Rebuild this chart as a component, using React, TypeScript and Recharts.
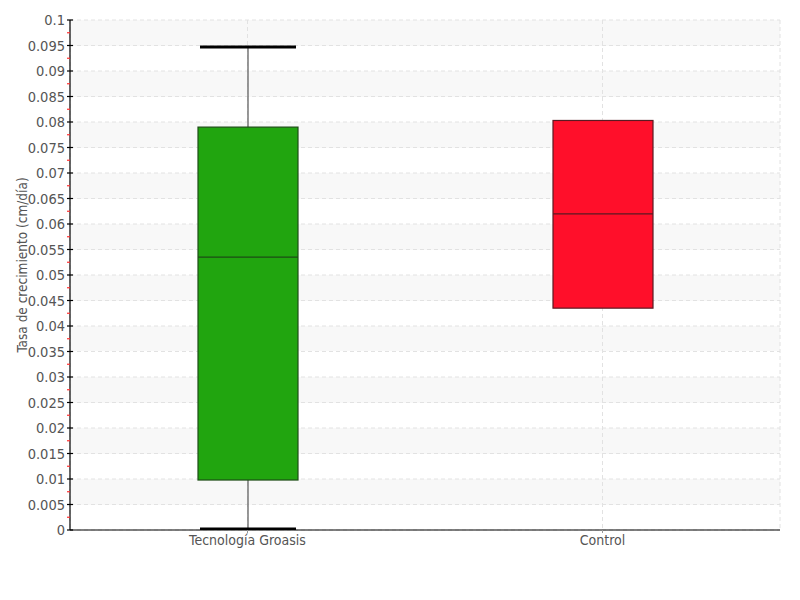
import React from "react";
import {
  ComposedChart,
  Bar,
  XAxis,
  YAxis,
  CartesianGrid,
  Label,
} from "recharts";

const categories = ["Tecnología Groasis", "Control"];
const mins = [0, 0.0435];
const q1s = [0.0098, 0.0435];
const medians = [0.0535, 0.062];
const q3s = [0.079, 0.0803];
const maxs = [0.0947, 0.0803];
const fills = ["#21a50f", "#ff0f2a"];
const strokes = ["#1d4d16", "#5a1a22"];

const majorTicks = [
  0, 0.005, 0.01, 0.015, 0.02, 0.025, 0.03, 0.035, 0.04, 0.045, 0.05, 0.055,
  0.06, 0.065, 0.07, 0.075, 0.08, 0.085, 0.09, 0.095, 0.1,
];
const minorTicks = majorTicks.slice(1).map((v, i) => (v + majorTicks[i]) / 2);
const allTicks = [...majorTicks, ...minorTicks].sort((a, b) => a - b);

const FONT = "'Liberation Sans Narrow', 'DejaVu Sans Condensed', sans-serif";

const data = categories.map((c, i) => ({
  name: c,
  range: [mins[i], maxs[i]],
  min: mins[i],
  q1: q1s[i],
  median: medians[i],
  q3: q3s[i],
  max: maxs[i],
  idx: i,
}));

const isMajor = (v: number) => majorTicks.some((m) => Math.abs(m - v) < 1e-9);
const fmt = (v: number) => parseFloat(v.toFixed(4)).toString();

const YTick = (props: any) => {
  const { x, y, payload } = props;
  const v = payload.value;
  if (isMajor(v)) {
    return (
      <g>
        <line x1={x - 3} x2={x + 3} y1={y} y2={y} stroke="#000" strokeWidth={1.2} />
        <text
          x={x - 5}
          y={y}
          textAnchor="end"
          dominantBaseline="central"
          fill="#555"
          fontSize={14.5}
          fontFamily={FONT}
        >
          {fmt(v)}
        </text>
      </g>
    );
  }
  return <line x1={x - 3} x2={x} y1={y} y2={y} stroke="#ff3030" strokeWidth={1.2} />;
};

const BoxShape = (props: any) => {
  const { x, y, width, height, payload } = props;
  const top = Math.min(y, y + height);
  const bottom = Math.max(y, y + height);
  const lo = payload.min;
  const hi = payload.max;
  const span = hi - lo;
  const py = (v: number) =>
    span === 0 ? top : bottom - ((bottom - top) * (v - lo)) / span;
  const cx = x + width / 2;
  const i = payload.idx;
  const yq1 = py(payload.q1);
  const yq3 = py(payload.q3);
  const ymed = py(payload.median);
  const ymin = py(payload.min);
  const ymax = py(payload.max);
  const capL = x + 2;
  const capR = x + width - 2;
  return (
    <g>
      {payload.max > payload.q3 && (
        <>
          <line x1={cx} x2={cx} y1={ymax} y2={yq3} stroke="#777" strokeWidth={1.5} />
          <line x1={capL} x2={capR} y1={ymax} y2={ymax} stroke="#000" strokeWidth={3} />
        </>
      )}
      {payload.min < payload.q1 && (
        <>
          <line x1={cx} x2={cx} y1={yq1} y2={ymin} stroke="#777" strokeWidth={1.5} />
          <line x1={capL} x2={capR} y1={ymin - 1} y2={ymin - 1} stroke="#000" strokeWidth={3} />
        </>
      )}
      <rect
        x={x}
        y={yq3}
        width={width}
        height={yq1 - yq3}
        fill={fills[i]}
        stroke={strokes[i]}
        strokeWidth={1.2}
      />
      <line x1={x} x2={x + width} y1={ymed} y2={ymed} stroke={strokes[i]} strokeWidth={1.2} />
    </g>
  );
};

const YLabel = (props: any) => {
  const { viewBox } = props;
  const cx = viewBox.x + 14;
  const cy = viewBox.y + viewBox.height / 2 - 10;
  return (
    <text
      x={cx}
      y={cy}
      transform={`rotate(-90 ${cx} ${cy})`}
      textAnchor="middle"
      dominantBaseline="central"
      fill="#555"
      fontSize={13.5}
      fontFamily={FONT}
    >
      Tasa de crecimiento (cm/día)
    </text>
  );
};

export default function App() {
  return (
    <ComposedChart
      width={800}
      height={600}
      data={data}
      margin={{ top: 12, right: 28, left: 0, bottom: 48 }}
      barCategoryGap={0}
    >
      <CartesianGrid
        yAxisId="grid"
        stroke="#e2e2e2"
        strokeDasharray="4 3"
        horizontalFill={["#f8f8f8", "#ffffff"]}
      />
      <YAxis
        yAxisId="grid"
        orientation="right"
        hide
        width={0}
        type="number"
        domain={[0, 0.1]}
        ticks={majorTicks}
        allowDataOverflow
      />
      <YAxis
        yAxisId={0}
        type="number"
        domain={[0, 0.1]}
        ticks={allTicks}
        interval={0}
        width={62}
        tickSize={0}
        tickMargin={0}
        tickLine={false}
        axisLine={{ stroke: "#000", strokeWidth: 1.2 }}
        tick={<YTick />}
        allowDataOverflow
      >
        <Label content={<YLabel />} />
      </YAxis>
      <XAxis
        dataKey="name"
        height={30}
        axisLine={{ stroke: "#000", strokeWidth: 1.2 }}
        tickLine={{ stroke: "#999" }}
        tickSize={3}
        tickMargin={2}
        tick={{ fill: "#555", fontSize: 14, fontFamily: FONT }}
      />
      <Bar
        yAxisId={0}
        dataKey="range"
        barSize={100}
        shape={<BoxShape />}
        isAnimationActive={false}
      />
    </ComposedChart>
  );
}
